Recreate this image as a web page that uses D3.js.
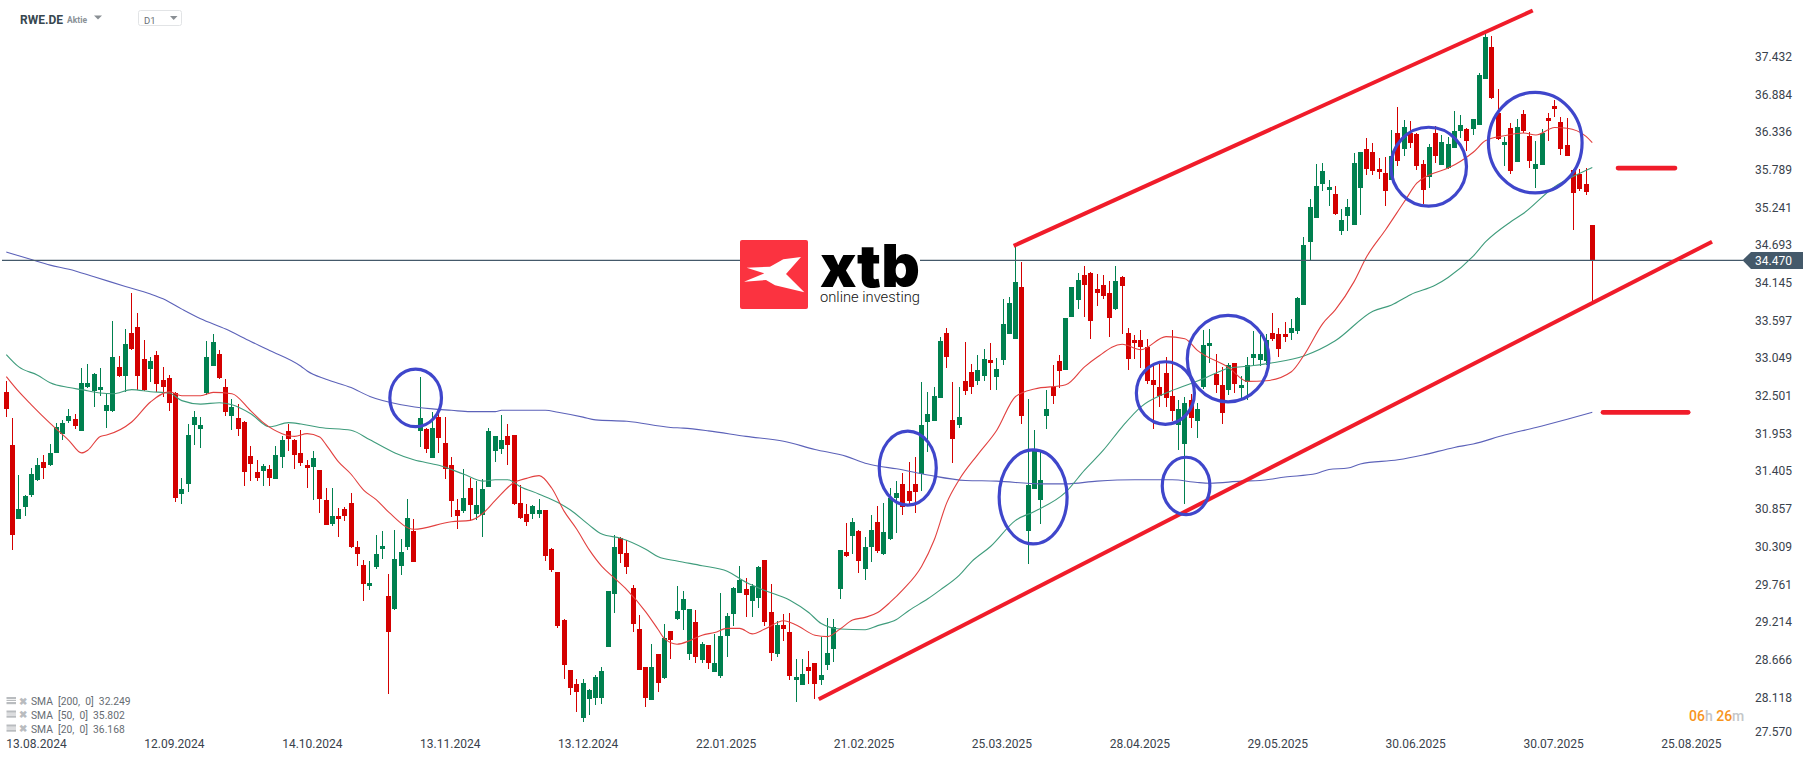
<!DOCTYPE html>
<html><head><meta charset="utf-8">
<script src="https://cdn.jsdelivr.net/npm/d3@7"></script>
<style>
html,body{margin:0;padding:0;background:#fff;overflow:hidden}
svg{display:block;font-family:Roboto,sans-serif}
</style></head><body><svg id="c" width="1815" height="761"></svg>
<script>
const candleColors=["RRGGGGRGGG","GRGGGGGGRG","RRRGRRRRGG","GGGGRRGRRR","RGRGGRRRRG","RRGRRRRRGG","GRGGGRGRGR","RRRGRGGGGG","RRRRGGRRRR","RRGGGGGGRR","RRRGRGRGGG","RGRGGGGGRG","GRRGRRGGRR","GGGGRGRGGR","GGGRRRGGGG","RRGRRGGRGG","GGRGGGGRRG","GGRRRRRGRR","RRRRRRRGGR","GGGRRGRGGG","GGRRRGGGGG","GGRGGGGRRR","RGRGRRRGRG","GGGRGGGRRG","RGRRGGRRRR","RRRR"].join("");
const highs=[32.72,32.18,31.35,31.06,31.45,31.60,31.64,31.80,32.10,32.15,
32.31,32.24,32.90,32.96,32.83,32.90,32.54,33.59,33.08,33.47,
33.99,33.70,33.31,33.07,33.15,32.92,32.80,32.56,31.31,32.09,
32.28,32.19,33.30,33.40,33.17,32.74,32.45,32.38,32.14,31.77,
31.57,31.51,31.49,31.77,31.92,32.09,31.87,32.00,31.57,31.70,
31.42,31.16,31.16,30.87,30.88,31.09,30.39,30.11,30.10,30.48,
30.54,29.91,30.55,30.42,31.00,30.71,32.77,32.03,32.27,32.29,
32.19,31.61,31.00,31.44,31.31,31.26,31.29,32.03,31.92,32.22,
32.09,31.93,31.20,30.93,30.91,31.00,30.84,30.29,29.94,29.26,
28.52,28.38,28.38,28.24,28.44,28.56,29.66,30.48,30.45,30.41,
29.75,29.32,28.56,28.89,28.75,29.18,29.08,29.74,29.66,29.40,
29.39,28.92,28.88,29.04,29.63,29.34,29.72,30.03,29.85,29.77,
30.03,30.11,29.77,29.23,29.33,29.34,28.68,28.68,28.79,28.62,
28.99,29.27,29.26,30.26,30.65,30.73,30.55,30.45,30.77,30.90,
30.94,31.16,31.26,31.38,31.54,31.61,32.70,32.56,32.63,33.35,
33.49,32.70,32.63,33.28,32.96,33.09,33.18,33.27,33.05,33.91,
33.94,34.68,34.44,32.45,32.00,31.71,32.58,32.95,33.09,33.63,
34.08,34.29,34.39,34.30,34.27,34.26,34.17,34.39,34.24,33.49,
33.38,33.46,33.33,32.96,32.96,33.06,33.46,32.44,32.48,32.53,
32.40,33.46,33.47,33.11,32.92,32.98,32.98,32.79,33.06,33.44,
33.38,33.40,33.70,33.49,33.57,33.62,33.94,34.81,35.36,35.87,
35.88,35.64,35.55,35.22,35.36,36.03,36.04,36.25,36.18,35.96,
35.97,36.36,36.70,36.51,36.50,36.32,35.93,36.16,36.42,36.29,
36.26,36.64,36.58,36.39,36.52,37.19,37.77,37.73,36.96,36.26,
36.47,36.52,36.65,36.34,36.20,36.38,36.61,36.80,36.55,36.54,
35.80,35.80,35.81,34.98];
const bodyTops=[32.56,31.79,30.85,31.04,31.36,31.49,31.54,31.67,32.05,32.11,
32.21,32.16,32.69,32.69,32.82,32.63,32.37,33.07,32.92,33.25,
33.41,33.50,33.04,33.01,33.09,32.73,32.76,32.54,31.15,31.93,
32.19,32.08,33.07,33.28,33.11,32.63,32.34,32.18,32.12,31.63,
31.39,31.48,31.44,31.64,31.86,31.99,31.86,31.67,31.49,31.60,
31.42,30.99,30.75,30.75,30.85,30.94,30.30,30.04,29.78,30.20,
30.32,29.59,30.13,30.23,30.72,30.54,32.18,32.02,32.03,32.19,
31.81,31.50,30.84,31.02,31.16,30.91,31.15,31.99,31.92,31.86,
31.92,31.93,30.94,30.78,30.90,30.84,30.84,30.27,29.94,29.24,
28.52,28.31,28.33,28.23,28.41,28.50,29.66,30.30,30.43,30.22,
29.71,29.11,28.56,28.56,28.75,28.98,29.08,29.37,29.55,29.40,
29.21,28.89,28.88,28.62,29.01,29.30,29.71,29.82,29.69,29.74,
30.01,30.11,29.36,29.17,29.17,29.07,28.41,28.46,28.56,28.62,
28.44,28.76,29.14,30.26,30.23,30.67,30.54,30.30,30.55,30.67,
30.52,31.01,31.09,31.22,31.12,31.22,32.08,32.24,32.50,33.30,
33.41,32.15,32.19,32.72,32.85,32.87,33.03,33.02,32.89,33.54,
33.85,34.15,34.08,31.20,31.73,31.28,32.31,32.63,33.01,33.63,
34.08,34.18,34.26,34.28,34.05,34.11,33.99,34.17,34.23,33.41,
33.31,33.31,33.21,32.73,32.63,32.83,32.50,32.31,32.40,32.44,
32.31,33.24,33.27,32.82,32.66,32.95,32.98,32.66,32.95,33.11,
33.11,33.31,33.41,33.40,33.40,33.49,33.92,34.69,35.24,35.55,
35.77,35.54,35.43,35.06,35.24,35.88,36.04,36.09,36.04,35.80,
35.74,35.99,36.32,36.41,36.32,36.31,35.87,36.12,36.32,36.19,
36.16,36.35,36.44,36.38,36.52,37.16,37.72,37.57,36.61,36.19,
36.39,36.41,36.60,36.28,35.87,36.32,36.54,36.71,36.48,36.15,
35.78,35.72,35.58,34.98];
const bodyBottoms=[32.31,30.48,30.71,30.88,31.06,31.28,31.45,31.49,31.67,31.95,
32.14,32.06,31.99,32.63,32.57,32.59,32.28,32.28,32.79,32.79,
33.18,32.79,32.59,32.89,32.67,32.63,32.40,31.01,31.07,31.22,
32.08,32.02,32.54,32.93,32.76,32.27,32.21,32.02,31.39,31.51,
31.31,31.41,31.31,31.29,31.61,31.87,31.64,31.52,31.45,31.47,
31.00,30.62,30.64,30.71,30.75,30.30,30.20,29.77,29.74,30.01,
30.27,29.07,29.40,30.03,30.30,30.09,31.99,31.73,31.60,31.89,
31.44,30.97,30.75,30.83,30.91,30.78,30.77,31.18,31.70,31.73,
31.79,30.93,30.73,30.67,30.78,30.78,30.17,29.97,29.16,28.59,
28.25,28.20,27.82,28.09,28.11,28.11,28.85,29.62,30.20,30.01,
29.18,28.52,28.11,28.08,28.33,28.40,28.95,29.26,29.39,28.75,
28.70,28.66,28.62,28.49,28.43,29.01,29.33,29.63,29.61,29.52,
29.56,29.21,28.76,28.75,29.11,28.43,28.37,28.30,28.50,28.31,
28.37,28.59,28.82,29.69,30.17,30.46,30.10,29.98,30.30,30.25,
30.20,30.42,31.01,30.88,30.97,31.10,31.36,32.12,32.13,32.47,
33.06,31.87,32.08,32.57,32.63,32.72,32.79,32.98,32.77,33.02,
33.40,33.33,32.21,30.53,31.15,30.99,32.21,32.50,32.86,32.87,
33.65,33.89,34.11,33.59,33.99,33.95,33.63,33.76,34.10,33.03,
33.27,33.21,32.72,32.66,32.50,32.47,32.28,32.08,31.80,32.18,
32.13,32.63,33.22,32.66,32.25,32.58,32.67,32.61,32.70,33.05,
33.02,33.01,33.33,33.18,33.36,33.41,33.44,33.82,34.74,35.09,
35.58,35.49,35.14,34.90,35.11,34.98,35.52,35.80,35.77,35.75,
35.48,35.64,35.91,36.09,36.18,35.84,35.49,35.68,35.99,35.86,
35.81,36.10,36.35,36.20,36.38,36.44,37.11,36.83,36.23,36.15,
35.77,35.90,36.35,35.91,35.80,35.86,36.49,36.67,36.09,35.99,
35.45,35.51,35.46,34.47];
const lows=[32.19,30.26,30.71,30.75,31.03,31.26,31.29,31.48,31.67,31.86,
32.11,32.02,31.99,32.61,32.34,32.50,32.03,32.27,32.77,32.56,
33.17,32.59,32.57,32.70,32.56,32.48,32.28,30.96,30.93,31.10,
31.79,31.74,32.51,32.93,32.74,32.21,32.00,31.92,31.19,31.26,
31.26,31.19,31.19,31.29,31.45,31.70,31.44,31.48,31.16,30.99,
30.80,30.62,30.61,30.45,30.68,30.29,30.03,29.52,29.68,29.98,
30.13,28.17,29.39,29.90,30.26,30.09,31.76,31.67,31.60,31.67,
31.29,30.74,30.57,30.80,30.68,30.70,30.45,31.18,31.54,31.66,
31.50,30.91,30.71,30.61,30.71,30.73,30.10,29.94,29.13,28.38,
28.15,27.91,27.76,27.86,28.01,28.02,28.85,29.34,30.07,29.91,
29.07,28.52,27.98,28.08,28.20,28.38,28.68,29.24,29.10,28.66,
28.62,28.62,28.53,28.49,28.40,28.70,29.16,29.63,29.29,29.29,
29.42,29.16,28.65,28.70,28.94,28.37,28.05,28.30,28.31,28.09,
28.30,28.52,28.63,29.55,30.16,30.20,29.93,29.82,30.09,30.22,
30.19,30.40,30.50,30.77,30.91,30.80,31.12,31.68,32.13,32.47,
32.90,31.52,32.03,32.51,32.53,32.66,32.72,32.58,32.58,32.95,
33.40,33.33,32.09,30.05,31.15,30.64,32.02,32.38,32.61,32.87,
33.65,33.76,33.65,33.33,33.80,33.91,33.35,33.75,33.40,32.87,
33.03,32.90,32.67,32.02,32.34,32.34,32.13,31.71,30.93,32.03,
31.89,32.60,32.98,32.54,32.09,32.51,32.54,32.45,32.44,32.93,
32.93,32.95,33.30,33.07,33.28,33.31,33.40,33.82,34.47,35.09,
35.48,35.26,35.13,34.84,34.90,34.98,35.13,35.71,35.71,35.65,
35.26,35.64,35.84,35.99,36.10,35.78,35.29,35.52,35.88,35.86,
35.80,36.10,36.25,36.06,36.29,36.44,37.11,36.81,36.22,35.84,
35.73,35.90,36.32,35.81,35.52,35.86,36.20,36.55,36.00,35.99,
34.91,35.48,35.42,33.84];

// Moving averages: [candle index, value]
const sma20=[[0,32.78],[2,32.56],[4,32.37],[7,32.10],[10,31.85],[12,31.67],[13,31.71],[15,31.91],[16,31.93],[20,32.12],[23,32.41],[26,32.56],[28,32.50],[31,32.50],[33,32.55],[36,32.53],[39,32.28],[41,32.11],[44,31.95],[46,31.91],[48,31.95],[50,31.90],[51,31.79],[53,31.54],[55,31.36],[57,31.13],[59,30.99],[61,30.81],[65,30.56],[71,30.67],[74,30.69],[76,30.79],[78,30.98],[81,31.24],[83,31.30],[85,31.34],[87,31.16],[89,30.82],[91,30.56],[93,30.26],[95,30.02],[97,29.85],[99,29.68],[102,29.36],[104,29.10],[105,28.97],[107,28.89],[109,28.94],[111,29.02],[113,29.06],[115,29.12],[117,29.12],[119,29.04],[121,29.11],[124,29.23],[126,29.17],[129,29.02],[131,29.00],[133,29.11],[135,29.24],[137,29.28],[139,29.35],[141,29.50],[143,29.68],[146,30.02],[148,30.40],[150,30.94],[152,31.28],[155,31.65],[158,32.00],[161,32.49],[164,32.60],[169,32.66],[172,32.92],[174,33.06],[178,33.25],[181,33.17],[185,33.36],[188,33.33],[190,33.16],[195,32.91],[198,32.71],[201,32.72],[205,32.85],[207,33.09],[210,33.55],[212,33.75],[215,34.16],[217,34.52],[220,34.91],[223,35.32],[225,35.59],[227,35.71],[230,35.81],[232,35.91],[234,36.04],[236,36.21],[239,36.28],[242,36.32],[244,36.29],[247,36.40],[249,36.39],[252,36.27],[253,36.18]];
const sma50=[[0,33.10],[2,32.92],[5,32.80],[7,32.69],[10,32.62],[12,32.59],[15,32.54],[17,32.53],[20,32.59],[23,32.56],[26,32.54],[28,32.43],[31,32.38],[34,32.40],[36,32.37],[39,32.24],[42,32.05],[45,32.11],[47,32.09],[50,32.04],[55,32.00],[58,31.86],[62,31.67],[65,31.57],[69,31.49],[73,31.36],[76,31.26],[78,31.28],[80,31.28],[82,31.18],[85,31.07],[88,30.95],[90,30.84],[93,30.62],[95,30.49],[98,30.43],[102,30.27],[104,30.16],[107,30.10],[111,30.03],[115,29.95],[118,29.79],[121,29.67],[125,29.53],[128,29.35],[130,29.19],[133,29.11],[137,29.10],[139,29.16],[142,29.25],[144,29.38],[147,29.55],[149,29.68],[152,29.89],[154,30.09],[157,30.31],[161,30.69],[164,30.82],[169,31.10],[172,31.42],[175,31.71],[178,32.05],[181,32.34],[185,32.54],[189,32.68],[191,32.75],[195,32.90],[199,32.94],[202,32.98],[207,33.08],[212,33.30],[218,33.73],[221,33.82],[224,33.97],[228,34.11],[230,34.22],[234,34.53],[236,34.74],[240,35.03],[242,35.15],[247,35.54],[250,35.69],[253,35.82]];
const sma200=[[0,34.59],[4,34.48],[7,34.40],[10,34.34],[14,34.23],[19,34.09],[23,33.98],[25,33.91],[28,33.76],[31,33.62],[35,33.47],[39,33.29],[42,33.16],[47,32.93],[48,32.86],[51,32.74],[55,32.62],[58,32.49],[63,32.37],[68,32.31],[71,32.29],[74,32.27],[78,32.27],[79,32.29],[86,32.29],[88,32.26],[92,32.19],[94,32.15],[99,32.13],[106,32.04],[108,32.03],[112,31.99],[118,31.91],[124,31.84],[129,31.72],[134,31.62],[137,31.52],[139,31.48],[142,31.44],[147,31.35],[153,31.27],[158,31.26],[165,31.22],[169,31.22],[174,31.26],[180,31.28],[186,31.28],[190,31.24],[192,31.23],[197,31.26],[200,31.27],[204,31.32],[209,31.37],[211,31.43],[214,31.45],[216,31.51],[222,31.57],[226,31.64],[231,31.75],[234,31.80],[239,31.93],[244,32.04],[249,32.16],[253,32.26]];

// Hand-drawn annotations, in candle index / price units
const circles=[[65.3,32.47,4.12,.419],[143.8,31.45,4.55,.538],[163.8,31.03,5.42,.683],[184.9,32.54,4.63,.455],[188.2,31.19,3.80,.417],[194.9,33.04,6.51,.628],[226.9,35.83,6.03,.574],[243.9,36.18,7.47,.731]];
const trendLines=[[129.6,28.09,272.1,34.74],[160.7,34.68,243.5,38.10]];
const levelBars=[[257.1,266.2,35.81],[254.7,268.3,32.26]];

const lastPrice=34.47;
const yTickLabels=["37.432","36.884","36.336","35.789","35.241","34.693","34.145","33.597","33.049","32.501","31.953","31.405","30.857","30.309","29.761","29.214","28.666","28.118","27.570"];
const dateLabels=["13.08.2024","12.09.2024","14.10.2024","13.11.2024","13.12.2024","22.01.2025","21.02.2025","25.03.2025","28.04.2025","29.05.2025","30.06.2025","30.07.2025","25.08.2025"];
const legendRows=[["SMA  [200,  0]  32.249",701.5],["SMA  [50,  0]  35.802",715],["SMA  [20,  0]  36.168",729]];

const svg=d3.select("#c");
const x=d3.scaleLinear().domain([0,253]).range([6.3,1592.3]);
const y=d3.scaleLinear().domain([27.57,37.432]).range([735,56.5]);
const RED="#d40000",GREEN="#00804f";

const g=svg.append("g").attr("shape-rendering","crispEdges");
const idx=d3.range(highs.length);
g.selectAll(".w").data(idx).join("rect").attr("class","w")
 .attr("x",i=>Math.floor(x(i))).attr("width",1)
 .attr("y",i=>y(highs[i])).attr("height",i=>y(lows[i])-y(highs[i]))
 .attr("fill",i=>candleColors[i]==="R"?RED:GREEN);
g.selectAll(".b").data(idx).join("rect").attr("class","b")
 .attr("x",i=>Math.floor(x(i))-2).attr("width",5)
 .attr("y",i=>y(bodyTops[i])).attr("height",i=>Math.max(1,y(bodyBottoms[i])-y(bodyTops[i])))
 .attr("fill",i=>candleColors[i]==="R"?RED:GREEN);

const line=d3.line().x(d=>x(d[0])).y(d=>y(d[1])).curve(d3.curveMonotoneX);
[[sma200,"#5c62b9"],[sma50,"#3f9c7c"],[sma20,"#e2403f"]].forEach(([s,c])=>{
  svg.append("path").attr("d",line(s)).attr("fill","none").attr("stroke",c).attr("stroke-width",1.1);
});

// price line + label
svg.append("line").attr("x1",2).attr("x2",1743).attr("y1",y(lastPrice)).attr("y2",y(lastPrice)).attr("stroke","#44596a").attr("stroke-width",1.2);

// trend lines
svg.selectAll(".t").data(trendLines).join("line").attr("class","t")
 .attr("x1",d=>x(d[0])).attr("y1",d=>y(d[1])).attr("x2",d=>x(d[2])).attr("y2",d=>y(d[3]))
 .attr("stroke","#f01c2a").attr("stroke-width",4);
svg.selectAll(".l").data(levelBars).join("line").attr("class","l")
 .attr("x1",d=>x(d[0])).attr("x2",d=>x(d[1])).attr("y1",d=>y(d[2])).attr("y2",d=>y(d[2]))
 .attr("stroke","#f01c2a").attr("stroke-width",4.6).attr("stroke-linecap","round");
// circles
svg.selectAll(".e").data(circles).join("ellipse").attr("class","e")
 .attr("cx",d=>x(d[0])).attr("cy",d=>y(d[1]))
 .attr("rx",d=>x(d[2])-x(0)).attr("ry",d=>y(0)-y(d[3]) )
 .attr("fill","none").attr("stroke","#3f46cb").attr("stroke-width",3.2);

// y axis
const yAxis=d3.axisRight(y).tickValues(yTickLabels.map(Number)).tickFormat(d=>d.toFixed(3)).tickSize(0).tickPadding(0);
const ya=svg.append("g").attr("transform","translate(1755,0)").call(yAxis);
ya.select(".domain").remove();
ya.selectAll("text").attr("font-size",12).attr("font-family","Roboto").attr("fill","#39424c").attr("dy","0.36em");
ya.selectAll(".tick").attr("transform",d=>`translate(0,${Math.min(y(d),731.5)})`);

// x axis
const tickStep=22,tickStart=4.74;
const xAxis=d3.axisBottom(x).tickValues(dateLabels.map((_,k)=>tickStart+k*tickStep)).tickFormat((_,k)=>dateLabels[k]).tickSize(0).tickPadding(0);
const xa=svg.append("g").attr("transform","translate(0,739)").call(xAxis);
xa.select(".domain").remove();
xa.selectAll("text").attr("font-size",12).attr("font-family","Roboto").attr("fill","#39424c").attr("dy",".71em").attr("y",0);

// price tag
svg.append("path").attr("d",`M1742.5 ${y(lastPrice)}L1751 252H1803V269H1751Z`).attr("fill","#44596a");
svg.append("text").attr("x",1755).attr("y",y(lastPrice)+4.4).attr("font-size",12).attr("fill","#fff").text(lastPrice.toFixed(3));

// logo
const lg=svg.append("g");
lg.append("rect").attr("x",740).attr("y",238).attr("width",180).attr("height",71).attr("fill","#fff");
lg.append("rect").attr("x",740).attr("y",240).attr("width",68).attr("height",69).attr("rx",2).attr("fill","#fb3340");
lg.append("path").attr("fill","#fff").attr("d",[[243,81],[190,88],[150,110],[80,113],[133,130],[72,155],[138,150],[165,166],[253,187],[198,132]].map((p,i)=>(i?"L":"M")+(720+p[0]/3)+" "+(230+p[1]/3)).join("")+"Z");
lg.append("text").attr("x",820).attr("y",287).attr("font-size",59).attr("font-family","Inter,Roboto").attr("font-weight",900).attr("fill","#000").attr("textLength",100).attr("lengthAdjust","spacingAndGlyphs").text("xtb");
lg.append("text").attr("x",820).attr("y",302).attr("font-size",14.5).attr("font-weight",300).attr("fill","#111").attr("textLength",100).attr("lengthAdjust","spacingAndGlyphs").text("online investing");

// header
svg.append("text").attr("x",20).attr("y",23.5).attr("font-size",12).attr("font-weight",700).attr("fill","#37474f").text("RWE.DE");
svg.append("text").attr("x",67).attr("y",23).attr("font-size",8.5).attr("font-weight",700).attr("fill","#8a9196").text("Aktie");
svg.append("path").attr("d","M94 15.5H102L98 19.5Z").attr("fill","#8a8f94");
svg.append("rect").attr("x",138.5).attr("y",10.5).attr("width",43).attr("height",15).attr("rx",2).attr("fill","#fff").attr("stroke","#e2e4e6");
svg.append("text").attr("x",144).attr("y",23.5).attr("font-size",9.5).attr("fill","#6b7278").text("D1");
svg.append("path").attr("d","M170 16H177.5L173.7 20Z").attr("fill","#8a8f94");

// legend
legendRows.forEach(([t,yy])=>{
  const a=svg.append("g").attr("fill","#b9bcbf");
  a.append("rect").attr("x",6.5).attr("y",yy-4.5).attr("width",9.5).attr("height",2.2);
  a.append("rect").attr("x",6.5).attr("y",yy-1.5).attr("width",9.5).attr("height",1);
  a.append("rect").attr("x",6.5).attr("y",yy+0.5).attr("width",9.5).attr("height",2.2);
  svg.append("text").attr("x",19).attr("y",yy+3).attr("font-size",9.5).attr("font-weight",700).attr("fill","#b9bcbf").text("✖");
  svg.append("text").attr("x",31).attr("y",yy+3.8).attr("font-size",10.3).attr("fill","#666c72").style("white-space","pre").text(t);
});

// countdown
const ct=svg.append("text").attr("x",1689).attr("y",721).attr("font-size",14).attr("font-weight",500);
[["06","#f7941d"],["h ","#c4c6c8"],["26","#f7941d"],["m","#c4c6c8"]].forEach(([t,c])=>ct.append("tspan").attr("fill",c).style("white-space","pre").text(t));
</script></body></html>
